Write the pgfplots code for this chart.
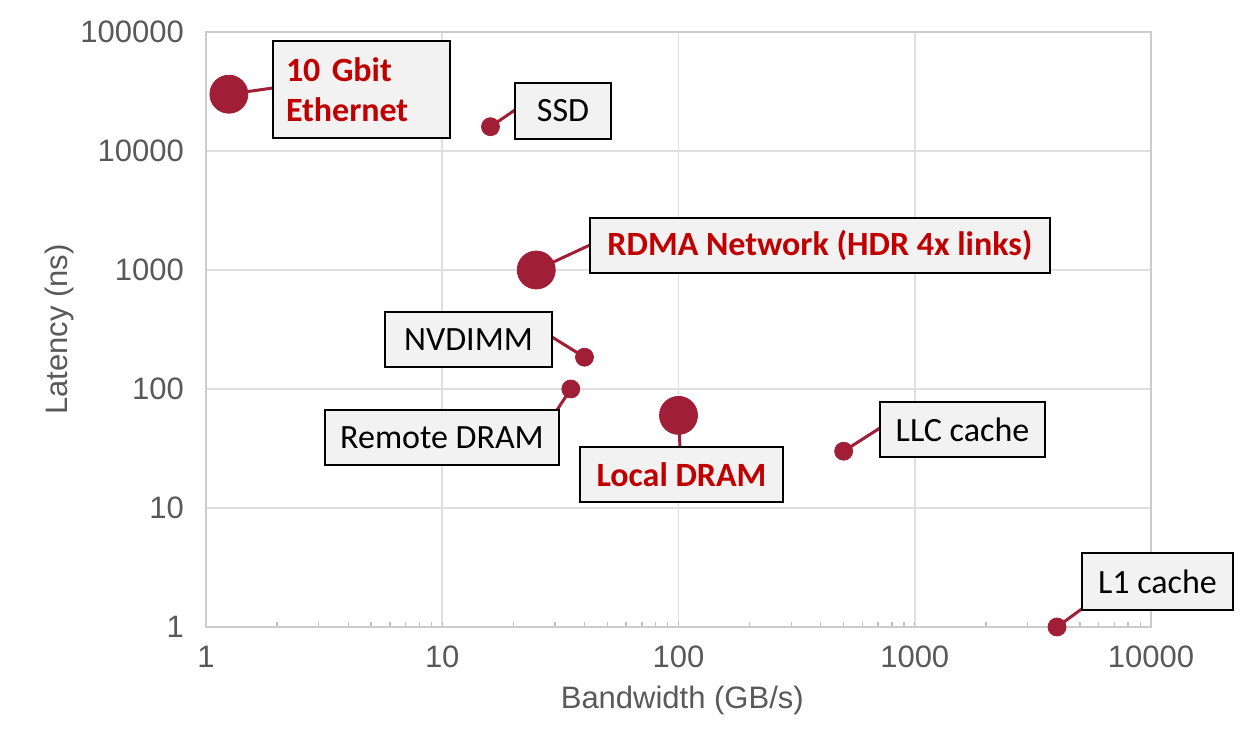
\documentclass[border=0pt]{standalone}
\usepackage{fontspec}
\setmainfont{Carlito}
\newfontfamily\helv{Liberation Sans}
\usepackage{pgfplots}
\pgfplotsset{compat=1.18}

\definecolor{crimson}{RGB}{160,31,55}
\definecolor{labred}{RGB}{192,0,0}
\definecolor{boxfill}{RGB}{242,242,242}
\definecolor{tickgray}{RGB}{89,89,89}

\tikzset{
  lbl/.style={draw=black, line width=1pt, fill=boxfill, inner sep=0pt,
    font=\fontsize{17}{20}\selectfont, minimum height=27.5pt},
  hot/.style={lbl, text=labred, font=\bfseries\fontsize{17}{20}\selectfont},
  conn/.style={crimson, line width=1.5pt},
}

\begin{document}
\begin{tikzpicture}
\begin{axis}[
    xmode=log, ymode=log,
    scale only axis,
    width=472.5pt, height=297.5pt,
    xmin=1, xmax=10000, ymin=1, ymax=100000,
    xtick={1,10,100,1000,10000},
    xticklabels={1,10,100,1000,10000},
    ytick={1,10,100,1000,10000,100000},
    yticklabels={1,10,100,1000,10000,100000},
    yminorticks=false,
    xtick pos=bottom,
    major tick length=0pt,
    minor tick length=2.5pt,
    minor tick style={gray!50, line width=0.7pt},
    grid=major,
    major grid style={gray!25, line width=0.8pt},
    axis line style={gray!40, line width=0.8pt},
    /pgf/number format/assume math mode=true,
    ticklabel style={font=\helv\fontsize{15.5}{18}\selectfont, text=tickgray},
    xticklabel style={yshift=-6pt},
    yticklabel style={xshift=-7.5pt},
    xlabel={Bandwidth (GB/s)},
    ylabel={Latency (ns)},
    label style={font=\helv\fontsize{15.5}{18}\selectfont, text=tickgray},
    xlabel style={at={(axis description cs:0.504,-0.123)}, anchor=center},
    ylabel style={at={(axis description cs:-0.155,0.50)}, anchor=center, rotate=0},
    clip=false,
]
% large markers
\addplot[only marks, mark=*, mark size=9.5pt, color=crimson]
  coordinates {(1.25,30000) (25,1000) (100,60)};
% small markers
\addplot[only marks, mark=*, mark size=4.5pt, color=crimson]
  coordinates {(16,16000) (40,185) (35,100) (500,30) (4000,1)};

\coordinate (eth) at (axis cs:1.25,30000);
\coordinate (ssd) at (axis cs:16,16000);
\coordinate (rdma) at (axis cs:25,1000);
\coordinate (nvd) at (axis cs:40,185);
\coordinate (rem) at (axis cs:35,100);
\coordinate (loc) at (axis cs:100,60);
\coordinate (llc) at (axis cs:500,30);
\coordinate (l1) at (axis cs:4000,1);
\end{axis}

% connectors
\draw[conn] (eth) -- (33.5pt,269.5pt);
\draw[conn] (ssd) -- (154.5pt,258.5pt);
\draw[conn] (rdma) -- (192pt,191pt);
\draw[conn] (nvd) -- (173pt,145pt);
\draw[conn] (rem) -- (175.5pt,108.5pt);
\draw[conn] (loc) -- (237pt,90pt);
\draw[conn] (llc) -- (337pt,99.5pt);
\draw[conn] (l1) -- (438.5pt,9.5pt);

% label boxes
\node[hot, minimum width=88.5pt, minimum height=48.5pt, align=left,
      text width=75.5pt, inner xsep=6.5pt] at (77.75pt,268.75pt)
  {10 Gbit\\Ethernet};
\node[lbl, minimum width=48pt, minimum height=28pt] at (178.5pt,258pt) {SSD};
\node[hot, minimum width=230pt] at (307pt,190.75pt) {RDMA Network (HDR 4x links)};
\node[lbl, minimum width=83.5pt] at (131.25pt,143.75pt) {NVDIMM};
\node[lbl, minimum width=117pt] at (118pt,94.75pt) {Remote DRAM};
\node[hot, minimum width=101.5pt] at (237.75pt,76.25pt) {Local DRAM};
\node[lbl, minimum width=82.5pt] at (378.25pt,98.75pt) {LLC cache};
\node[lbl, minimum width=75.5pt, minimum height=28.5pt] at (475.75pt,22.75pt) {L1 cache};

\pgfresetboundingbox
\path[use as bounding box] (-103pt,-52.5pt) rectangle (526pt,313.5pt);
\end{tikzpicture}
\end{document}
